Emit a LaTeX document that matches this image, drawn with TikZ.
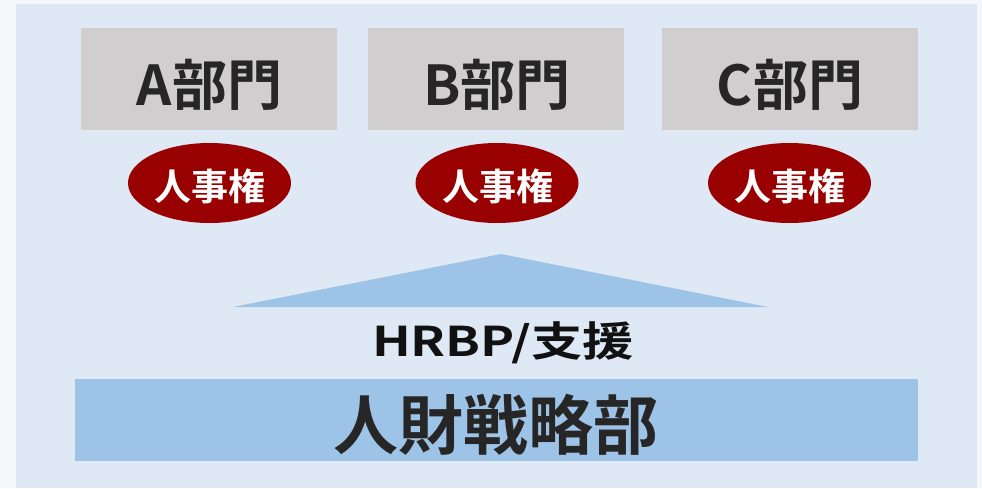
\documentclass[tikz,border=0pt]{standalone}
\usetikzlibrary{shapes.geometric}
\usepackage{fontspec}
\newfontfamily\cjk{Noto Sans CJK JP}[BoldFont={* Bold}]
\definecolor{outerbg}{HTML}{F4F6FA}
\definecolor{panel}{HTML}{DEE9F5}
\definecolor{deptgray}{HTML}{D0CECE}
\definecolor{darkred}{HTML}{990000}
\definecolor{hrblue}{HTML}{9DC3E6}
\definecolor{txt}{HTML}{262626}
\definecolor{txtdark}{HTML}{111111}
\begin{document}
\begin{tikzpicture}[x=1pt,y=-1pt,
  dept/.style={fill=deptgray, draw=none, minimum width=256pt, minimum height=102pt, inner sep=0pt},
  depttext/.style={inner sep=0pt, font=\cjk\bfseries\fontsize{55}{60}\selectfont, text=txt},
  hrright/.style={ellipse, fill=darkred, draw=none, minimum width=163pt, minimum height=80pt, inner sep=0pt},
  hrtext/.style={inner sep=0pt, font=\cjk\bfseries\fontsize{37}{42}\selectfont, text=white},
  midtext/.style={font=\cjk\bfseries\fontsize{41}{46}\selectfont, text=txtdark, inner sep=0pt},
  bartext/.style={font=\cjk\bfseries\fontsize{65}{70}\selectfont, text=txt, inner sep=0pt}]
\useasboundingbox (0,0) rectangle (982,488);
\fill[outerbg] (0,0) rectangle (982,488);
\fill[panel] (16,4) rectangle (977,488);
\node[dept] (A) at (209,79) {};
\node[dept] (B) at (496,79) {};
\node[dept] (C) at (789.5,79) {};
\node[depttext] (At) at (209.5,85) {A部門};
\node[depttext] (Bt) at (497,85) {B部門};
\node[depttext] (Ct) at (790,85) {C部門};
\node[hrright] (rA) at (209.5,183) {};
\node[hrright] (rB) at (497,183) {};
\node[hrright] (rC) at (789.5,183) {};
\node[hrtext] (rAt) at (210,186) {人事権};
\node[hrtext] (rBt) at (497.5,186) {人事権};
\node[hrtext] (rCt) at (790,186) {人事権};
\coordinate (tl) at (233,307);
\coordinate (tr) at (768,307);
\coordinate (tp) at (501,254);
\fill[hrblue] (tl) -- (tp) -- (tr) -- cycle;
\node[midtext] (hr) at (503,343) {\scalebox{1.25}[1]{HRBP/支援}};
\node[fill=hrblue, minimum width=843pt, minimum height=82pt, inner sep=0pt] (bar) at (496.5,420) {};
\node[bartext] (bart) at (496,425) {人財戦略部};
\end{tikzpicture}
\end{document}
